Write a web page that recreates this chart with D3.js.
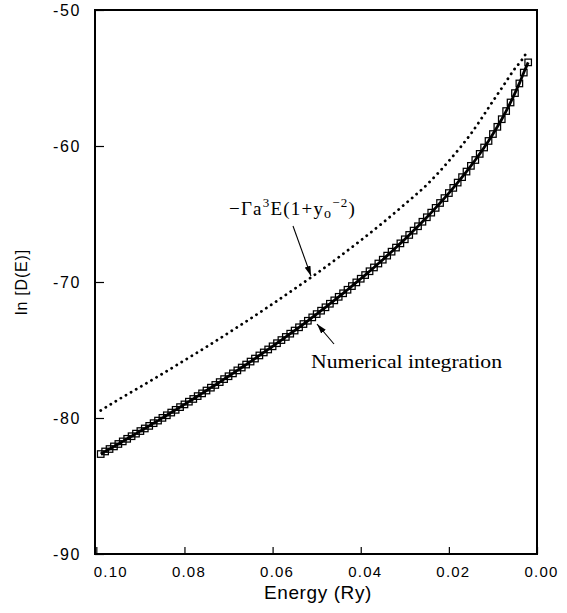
<!DOCTYPE html>
<html>
<head>
<meta charset="utf-8">
<script src="https://cdn.jsdelivr.net/npm/d3@7"></script>
<style>
  body { margin: 0; background: #fff; }
  svg { display: block; }
</style>
</head>
<body>
<div id="chart"></div>
<script>
// numerical integration (squares + solid line)
var energyNum = [0.099,0.098,0.097,0.096,0.095,0.094,0.093,0.092,0.091,0.090,
  0.089,0.088,0.087,0.086,0.085,0.084,0.083,0.082,0.081,0.080,
  0.079,0.078,0.077,0.076,0.075,0.074,0.073,0.072,0.071,0.070,
  0.069,0.068,0.067,0.066,0.065,0.064,0.063,0.062,0.061,0.060,
  0.059,0.058,0.057,0.056,0.055,0.054,0.053,0.052,0.051,0.050,
  0.049,0.048,0.047,0.046,0.045,0.044,0.043,0.042,0.041,0.040,
  0.039,0.038,0.037,0.036,0.035,0.034,0.033,0.032,0.031,0.030,
  0.029,0.028,0.027,0.026,0.025,0.024,0.023,0.022,0.021,0.020,
  0.019,0.018,0.017,0.016,0.015,0.014,0.013,0.012,0.011,0.010,
  0.009,0.008,0.007,0.006,0.005,0.004,0.003,0.002];
var lnDNum = [-82.65,-82.46,-82.28,-82.09,-81.91,-81.72,-81.53,-81.34,-81.15,-80.96,
  -80.77,-80.58,-80.38,-80.19,-79.99,-79.80,-79.60,-79.40,-79.20,-79.00,
  -78.80,-78.60,-78.39,-78.19,-77.98,-77.77,-77.57,-77.36,-77.14,-76.93,
  -76.72,-76.50,-76.29,-76.07,-75.85,-75.63,-75.40,-75.18,-74.96,-74.73,
  -74.50,-74.27,-74.04,-73.80,-73.57,-73.33,-73.09,-72.85,-72.60,-72.36,
  -72.11,-71.86,-71.60,-71.35,-71.09,-70.83,-70.57,-70.30,-70.03,-69.76,
  -69.49,-69.21,-68.93,-68.64,-68.36,-68.06,-67.77,-67.47,-67.16,-66.86,
  -66.54,-66.22,-65.90,-65.57,-65.24,-64.90,-64.55,-64.19,-63.83,-63.46,
  -63.08,-62.69,-62.29,-61.88,-61.46,-61.03,-60.58,-60.11,-59.63,-59.12,
  -58.59,-58.03,-57.43,-56.80,-56.11,-55.40,-54.60,-53.85];

// analytic approximation (dotted)
var energyApprox = [0.099,0.095,0.090,0.085,0.080,0.075,0.070,0.065,0.060,0.055,0.050,
  0.045,0.040,0.035,0.030,0.025,0.020,0.015,0.010,0.0075,0.005,0.0035,0.0024];
var lnDApprox = [-79.45,-78.65,-77.71,-76.75,-75.76,-74.77,-73.74,-72.69,-71.61,-70.50,-69.37,
  -68.18,-66.94,-65.65,-64.28,-62.85,-61.10,-59.10,-56.70,-55.50,-54.30,-53.70,-53.15];

var xTicks = [0.10, 0.08, 0.06, 0.04, 0.02, 0.00];
var yTicks = [-90, -80, -70, -60, -50];

var W = 567, H = 613;
var margin = {left: 95, right: 537, top: 10, bottom: 554};

var svg = d3.select("#chart").append("svg")
  .attr("width", W).attr("height", H)
  .style("background", "#fff");

var x = d3.scaleLinear().domain([0.1003, 0]).range([margin.left, margin.right]);
var y = d3.scaleLinear().domain([-90, -50]).range([margin.bottom, margin.top]);

var sans = "'Liberation Sans', Arial, Helvetica, sans-serif";
var serif = "'Liberation Serif', 'Times New Roman', serif";

// x axis
var gx = svg.append("g")
  .attr("transform", "translate(0," + margin.bottom + ")")
  .call(d3.axisBottom(x).tickValues(xTicks).tickSize(-7).tickPadding(12)
    .tickFormat(d3.format(".2f")));
gx.select(".domain").remove();
gx.selectAll(".tick line").attr("stroke", "#000").attr("stroke-width", 1.2);
gx.selectAll(".tick text")
  .attr("font-family", sans).attr("font-size", 15).attr("letter-spacing", 1.2)
  .attr("fill", "#000")
  .attr("dx", function(d) { return d === 0.10 ? 14 : 4; });

// y axis
var gy = svg.append("g")
  .attr("transform", "translate(" + margin.left + ",0)")
  .call(d3.axisLeft(y).tickValues(yTicks).tickSize(-9).tickPadding(14)
    .tickFormat(function(d) { return String(d); }));
gy.select(".domain").remove();
gy.selectAll(".tick line").attr("stroke", "#000").attr("stroke-width", 1.2);
gy.selectAll(".tick text")
  .attr("font-family", sans).attr("font-size", 16).attr("letter-spacing", 1.6)
  .attr("fill", "#000");

// frame
svg.append("rect")
  .attr("x", margin.left).attr("y", margin.top)
  .attr("width", margin.right - margin.left).attr("height", margin.bottom - margin.top)
  .attr("fill", "none").attr("stroke", "#000").attr("stroke-width", 2);

// axis titles
svg.append("text")
  .attr("x", 318).attr("y", 599)
  .attr("text-anchor", "middle")
  .attr("font-family", sans).attr("font-size", 19).attr("letter-spacing", 0.6)
  .text("Energy (Ry)");

svg.append("text")
  .attr("transform", "translate(27,282) rotate(-90)")
  .attr("text-anchor", "middle")
  .attr("font-family", sans).attr("font-size", 16).attr("letter-spacing", 0.8)
  .text("ln [D(E)]");

// dotted approximation
var approx = energyApprox.map(function(e, i) { return [e, lnDApprox[i]]; });
svg.append("path")
  .datum(approx)
  .attr("d", d3.line().x(function(d) { return x(d[0]); }).y(function(d) { return y(d[1]); })
    .curve(d3.curveMonotoneX))
  .attr("fill", "none").attr("stroke", "#000")
  .attr("stroke-width", 2.8).attr("stroke-linecap", "round")
  .attr("stroke-dasharray", "0.1,5.8");

// numerical integration
var num = energyNum.map(function(e, i) { return [e, lnDNum[i]]; });
var sq = 6.5;
svg.selectAll(".sq")
  .data(num)
  .enter().append("rect")
  .attr("class", "sq")
  .attr("x", function(d) { return x(d[0]) - sq / 2; })
  .attr("y", function(d) { return y(d[1]) - sq / 2; })
  .attr("width", sq).attr("height", sq)
  .attr("fill", "none").attr("stroke", "#000").attr("stroke-width", 1.25);

svg.append("path")
  .datum(num)
  .attr("d", d3.line().x(function(d) { return x(d[0]); }).y(function(d) { return y(d[1]); }))
  .attr("fill", "none").attr("stroke", "#000").attr("stroke-width", 2.8);

// arrows + labels
var defs = svg.append("defs");
defs.append("marker")
  .attr("id", "arr").attr("viewBox", "0 0 10 6")
  .attr("refX", 10).attr("refY", 3)
  .attr("markerWidth", 10).attr("markerHeight", 6)
  .attr("markerUnits", "userSpaceOnUse")
  .attr("orient", "auto")
  .append("path").attr("d", "M0,0 L10,3 L0,6 Z").attr("fill", "#000");

svg.append("line")
  .attr("x1", 293).attr("y1", 226).attr("x2", 311).attr("y2", 276)
  .attr("stroke", "#000").attr("stroke-width", 1.1)
  .attr("marker-end", "url(#arr)");

svg.append("line")
  .attr("x1", 334).attr("y1", 344).attr("x2", 317).attr("y2", 324)
  .attr("stroke", "#000").attr("stroke-width", 1.1)
  .attr("marker-end", "url(#arr)");

var f = svg.append("text")
  .attr("x", 229).attr("y", 215)
  .attr("font-family", serif).attr("font-size", 19).attr("letter-spacing", 1.2);
f.append("tspan").text("\u2212\u0393a");
f.append("tspan").attr("dy", -8).attr("font-size", 13).text("3");
f.append("tspan").attr("dy", 8).text("E(1+y");
f.append("tspan").attr("dy", 3).attr("font-size", 14).text("o");
f.append("tspan").attr("dy", -11).attr("font-size", 13).text("\u22122");
f.append("tspan").attr("dy", 8).text(")");

svg.append("text")
  .attr("x", 311).attr("y", 368)
  .attr("font-family", serif).attr("font-size", 19)
  .attr("textLength", 191).attr("lengthAdjust", "spacingAndGlyphs")
  .text("Numerical integration");
</script>
</body>
</html>
